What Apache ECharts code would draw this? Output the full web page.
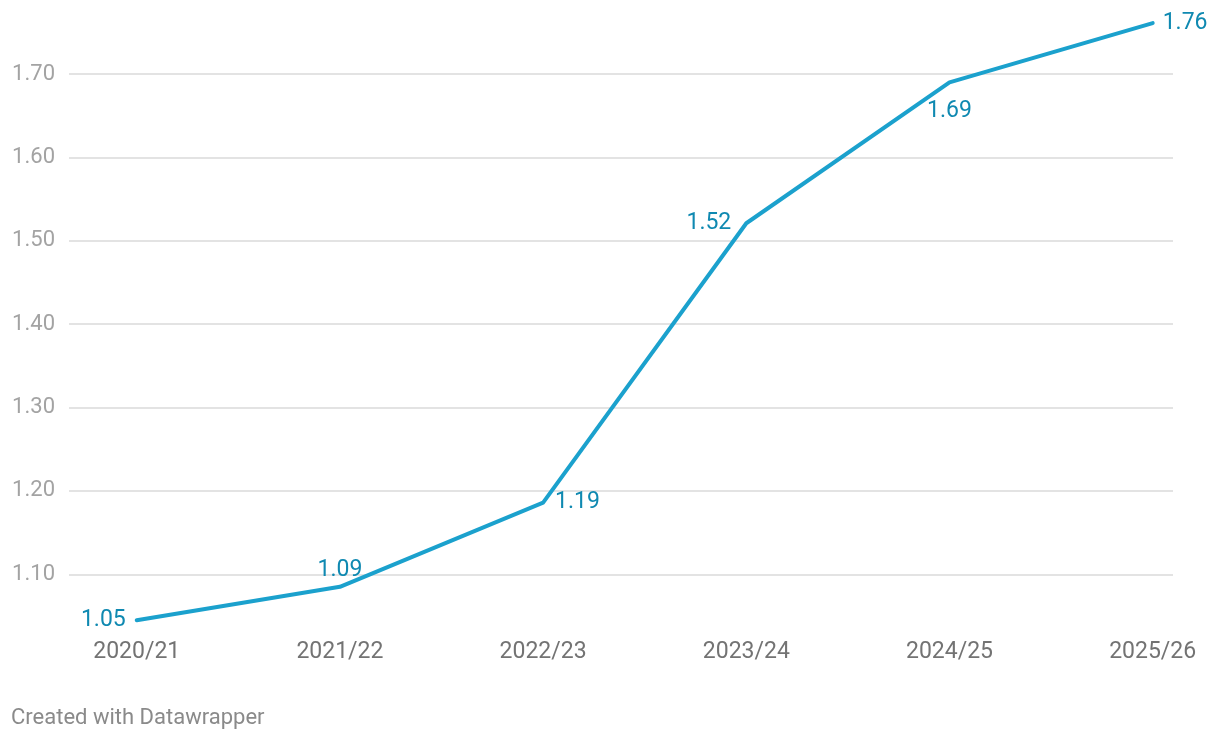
<!DOCTYPE html>
<html>
<head>
<meta charset="utf-8">
<script src="https://cdn.jsdelivr.net/npm/echarts@6/dist/echarts.min.js"></script>
<style>
html,body{margin:0;padding:0;background:#fff;}
#chart{width:1220px;height:740px;}
</style>
</head>
<body>
<div id="chart"></div>
<script>
// Data
const categories = ["2020/21", "2021/22", "2022/23", "2023/24", "2024/25", "2025/26"];
const values = [1.045, 1.085, 1.186, 1.521, 1.69, 1.761];
const valueLabels = ["1.05", "1.09", "1.19", "1.52", "1.69", "1.76"];
const labelPositions = ["left", "top", "right", "left", "bottom", "right"];
const labelDistances = [10, 4, 11, 14, 16, 9];

const chart = echarts.init(document.getElementById('chart'), null, {renderer: 'canvas'});
const font = 'Roboto, "Noto Sans", sans-serif';

const seriesData = values.map((v, i) => ({
  value: [i, v],
  label: {
    show: true,
    position: labelPositions[i],
    distance: labelDistances[i],
    offset: (labelPositions[i] === 'left' || labelPositions[i] === 'right') ? [0, 2] : [0, 0],
    formatter: valueLabels[i]
  }
}));

chart.setOption({
  animation: false,
  backgroundColor: '#ffffff',
  grid: {left: 69, right: 47, top: 7.3, bottom: 82.3, containLabel: false},
  xAxis: {
    type: 'value',
    min: -1/3,
    max: 5.1,
    axisLine: {show: false},
    axisTick: {show: false},
    splitLine: {show: false},
    axisLabel: {
      customValues: categories.map((c, i) => i),
      formatter: (v) => categories[Math.round(v)],
      color: '#737373',
      fontFamily: font,
      fontSize: 23,
      margin: -17
    }
  },
  yAxis: {
    type: 'value',
    min: 1.0,
    max: 1.78,
    interval: 0.1,
    axisLine: {show: false},
    axisTick: {show: false},
    axisLabel: {
      showMinLabel: false,
      showMaxLabel: false,
      formatter: (v) => v.toFixed(2),
      color: '#a3a3a3',
      fontFamily: font,
      fontSize: 22,
      margin: 14
    },
    splitLine: {
      show: true,
      showMinLine: false,
      showMaxLine: false,
      lineStyle: {color: '#e3e3e3', width: 2}
    }
  },
  series: [{
    type: 'line',
    data: seriesData,
    symbol: 'circle',
    symbolSize: 2,
    showSymbol: true,
    showAllSymbol: true,
    itemStyle: {color: 'rgba(0,0,0,0)', borderWidth: 0},
    clip: false,
    lineStyle: {color: '#1ba1cd', width: 4, cap: 'round', join: 'round'},
    label: {
      show: true,
      color: '#0f89b1',
      fontFamily: font,
      fontSize: 23
    },
    labelLayout: {hideOverlap: false},
    emphasis: {disabled: true}
  }],
  graphic: [{
    type: 'text',
    left: 11,
    top: 707,
    style: {
      text: 'Created with Datawrapper',
      fill: '#8a8a8a',
      font: '22px ' + font
    }
  }]
});
</script>
</body>
</html>
